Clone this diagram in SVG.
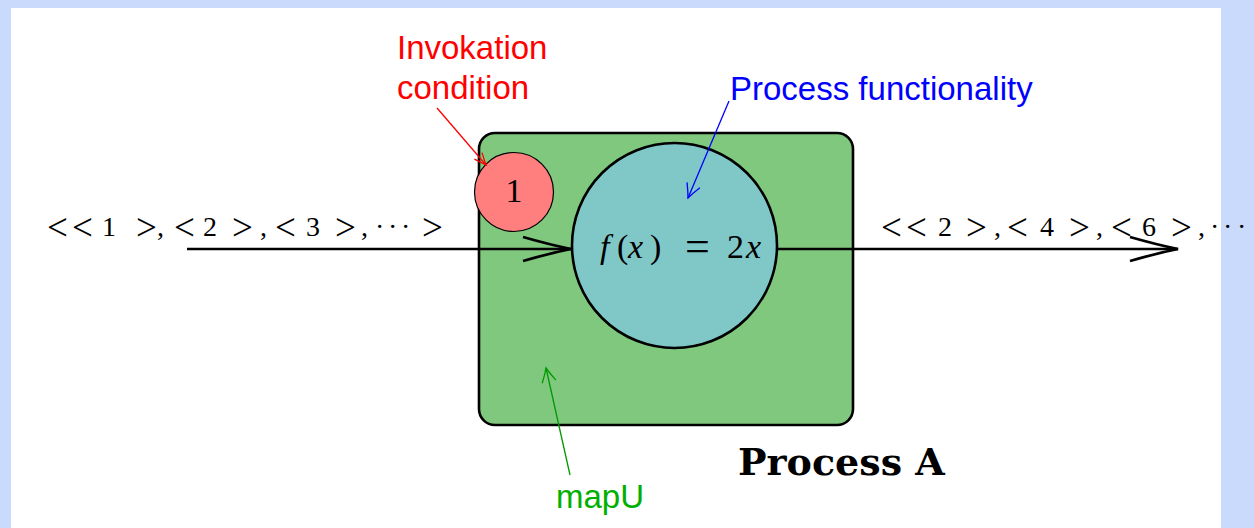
<svg xmlns="http://www.w3.org/2000/svg" width="1254" height="528" viewBox="0 0 1254 528">
<style>
.serif{font-family:"Liberation Serif","DejaVu Serif",serif;fill:#000}
.op{font-family:"Liberation Serif","DejaVu Serif",serif;font-size:37px;fill:#000}
.sans{font-family:"Liberation Sans","DejaVu Sans",sans-serif}
.thick{stroke:#000;stroke-width:2.6;fill:none}
</style>
<defs>
<marker id="big" markerUnits="userSpaceOnUse" markerWidth="60" markerHeight="40" refX="50" refY="14" orient="auto" overflow="visible">
<path d="M2,2 Q30,10 50,14 Q30,18 2,26" fill="none" stroke="#000" stroke-width="2.8"/>
</marker>
<marker id="redh" markerUnits="userSpaceOnUse" markerWidth="20" markerHeight="20" refX="12" refY="6" orient="auto" overflow="visible">
<path d="M0,1 Q7,4 12,6 Q7,8 0,11" fill="none" stroke="#ff0000" stroke-width="1.3"/>
</marker>
<marker id="blueh" markerUnits="userSpaceOnUse" markerWidth="20" markerHeight="20" refX="14" refY="7" orient="auto" overflow="visible">
<path d="M0,0 Q8,4.5 14,7 Q8,9.5 0,14" fill="none" stroke="#0000ff" stroke-width="1.3"/>
</marker>
<marker id="greenh" markerUnits="userSpaceOnUse" markerWidth="20" markerHeight="20" refX="14" refY="7" orient="auto" overflow="visible">
<path d="M0,0 Q8,4.5 14,7 Q8,9.5 0,14" fill="none" stroke="#009900" stroke-width="1.3"/>
</marker>
</defs>
<rect x="0" y="0" width="1254" height="528" fill="#c9dafc"/>
<rect x="11" y="8" width="1210" height="520" fill="#ffffff"/>

<g id="process-box">
<rect x="479" y="133" width="374" height="292" rx="16" ry="16" fill="#80c87e" stroke="#000" stroke-width="2.6"/>
</g>

<g id="invocation-condition">
<circle cx="514" cy="192" r="39.5" fill="#ff7f7f" stroke="#000" stroke-width="1.2"/>
<text x="514" y="202" text-anchor="middle" class="serif" font-size="34">1</text>
</g>

<g id="process-functionality">
<circle cx="674.5" cy="245.5" r="102.5" fill="#80c8c8" stroke="#000" stroke-width="2.6"/>
<text y="258" class="serif" font-size="34"><tspan x="600" font-style="italic">f</tspan><tspan x="617">(</tspan><tspan x="628" font-style="italic">x</tspan><tspan x="650">)</tspan><tspan x="685" font-size="44" dy="3">=</tspan><tspan x="727" dy="-3">2</tspan><tspan x="746" font-style="italic">x</tspan></text>
</g>

<g id="connectors">
<line x1="187" y1="249" x2="571" y2="249" class="thick" marker-end="url(#big)"/>
<line x1="777" y1="249" x2="1178" y2="249" class="thick" marker-end="url(#big)"/>
<line x1="437" y1="108" x2="486" y2="165" stroke="#ff0000" stroke-width="1.3" marker-end="url(#redh)"/>
<line x1="729" y1="101" x2="688" y2="198" stroke="#0000ff" stroke-width="1.3" marker-end="url(#blueh)"/>
<line x1="570" y1="475" x2="546" y2="368" stroke="#009900" stroke-width="1.3" marker-end="url(#greenh)"/>
</g>

<g id="input-label">
<text y="240" class="op"><tspan x="47">&lt;</tspan><tspan x="72">&lt;</tspan><tspan x="136">&gt;</tspan><tspan x="174">&lt;</tspan><tspan x="232">&gt;</tspan><tspan x="275">&lt;</tspan><tspan x="335">&gt;</tspan><tspan x="422">&gt;</tspan></text>
<text y="236" font-size="28" class="serif"><tspan x="102">1</tspan><tspan x="157">,</tspan><tspan x="203">2</tspan><tspan x="260">,</tspan><tspan x="306">3</tspan><tspan x="361">,</tspan><tspan x="375">·</tspan><tspan x="388">·</tspan><tspan x="401">·</tspan></text>
</g>
<g id="output-label">
<text y="240" class="op"><tspan x="881">&lt;</tspan><tspan x="906">&lt;</tspan><tspan x="966">&gt;</tspan><tspan x="1007">&lt;</tspan><tspan x="1069">&gt;</tspan><tspan x="1111">&lt;</tspan><tspan x="1171">&gt;</tspan></text>
<text y="236" font-size="28" class="serif"><tspan x="938">2</tspan><tspan x="994">,</tspan><tspan x="1040">4</tspan><tspan x="1096">,</tspan><tspan x="1142">6</tspan><tspan x="1198">,</tspan><tspan x="1210">·</tspan><tspan x="1223">·</tspan><tspan x="1237">·</tspan></text>
</g>

<g id="labels">
<text x="397" y="59" class="sans" font-size="33" fill="#ff0000">Invokation</text>
<text x="397" y="99" class="sans" font-size="33" fill="#ff0000">condition</text>
<text x="730" y="100" class="sans" font-size="33" fill="#0000ff">Process functionality</text>
<text x="556" y="508" class="sans" font-size="33" fill="#00b000">mapU</text>
<text x="738" y="475" font-family="DejaVu Serif, Liberation Serif, serif" font-size="38" font-weight="bold" fill="#000">Process A</text>
</g>
</svg>
